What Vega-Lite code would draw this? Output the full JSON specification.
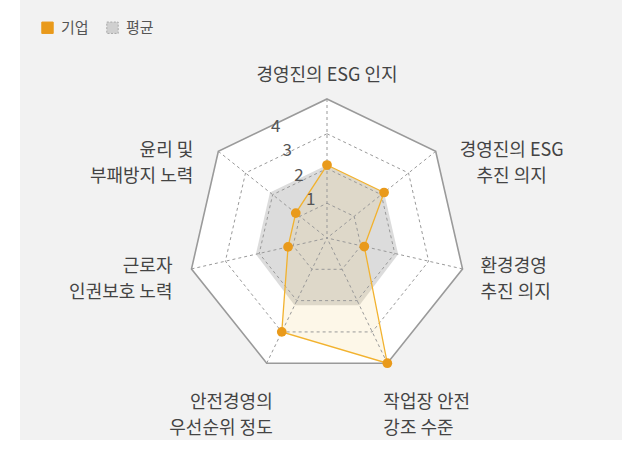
{
  "$schema": "https://vega.github.io/schema/vega-lite/v6.json",
  "width": 602,
  "height": 440,
  "autosize": {"type": "none"},
  "padding": {"left": 20, "right": 20, "top": 0, "bottom": 15},
  "background": "white",
  "config": {
    "view": {"fill": "#f2f2f2", "stroke": null},
    "font": "Noto Sans CJK KR",
    "text": {"font": "Noto Sans CJK KR", "fontSize": 18, "color": "#444", "lineBreak": "\n", "lineHeight": 26, "baseline": "middle"}
  },
  "datasets": {
    "axes": [
      {"i": 0, "label": "경영진의 ESG 인지"},
      {"i": 1, "label": "경영진의 ESG\n추진 의지"},
      {"i": 2, "label": "환경경영\n추진 의지"},
      {"i": 3, "label": "작업장 안전\n강조 수준"},
      {"i": 4, "label": "안전경영의\n우선순위 정도"},
      {"i": 5, "label": "근로자\n인권보호 노력"},
      {"i": 6, "label": "윤리 및\n부패방지 노력"}
    ],
    "grid": [
      {"level": 1, "i": 0}, {"level": 1, "i": 1}, {"level": 1, "i": 2}, {"level": 1, "i": 3}, {"level": 1, "i": 4}, {"level": 1, "i": 5}, {"level": 1, "i": 6},
      {"level": 2, "i": 0}, {"level": 2, "i": 1}, {"level": 2, "i": 2}, {"level": 2, "i": 3}, {"level": 2, "i": 4}, {"level": 2, "i": 5}, {"level": 2, "i": 6},
      {"level": 3, "i": 0}, {"level": 3, "i": 1}, {"level": 3, "i": 2}, {"level": 3, "i": 3}, {"level": 3, "i": 4}, {"level": 3, "i": 5}, {"level": 3, "i": 6},
      {"level": 4, "i": 0}, {"level": 4, "i": 1}, {"level": 4, "i": 2}, {"level": 4, "i": 3}, {"level": 4, "i": 4}, {"level": 4, "i": 5}, {"level": 4, "i": 6}
    ],
    "ticks": [{"level": 1}, {"level": 2}, {"level": 3}, {"level": 4}],
    "scores": [
      {"series": "기업", "i": 0, "value": 2.1},
      {"series": "기업", "i": 1, "value": 2.1},
      {"series": "기업", "i": 2, "value": 1.1},
      {"series": "기업", "i": 3, "value": 4.0},
      {"series": "기업", "i": 4, "value": 3.0},
      {"series": "기업", "i": 5, "value": 1.15},
      {"series": "기업", "i": 6, "value": 1.15},
      {"series": "평균", "i": 0, "value": 2.1},
      {"series": "평균", "i": 1, "value": 2.1},
      {"series": "평균", "i": 2, "value": 2.1},
      {"series": "평균", "i": 3, "value": 2.15},
      {"series": "평균", "i": 4, "value": 2.15},
      {"series": "평균", "i": 5, "value": 2.1},
      {"series": "평균", "i": 6, "value": 2.1}
    ]
  },
  "encoding": {
    "x": {"field": "x", "type": "quantitative", "scale": {"domain": [-8.835, 8.489], "nice": false, "zero": false}, "axis": null},
    "y": {"field": "y", "type": "quantitative", "scale": {"domain": [-5.813, 6.849], "nice": false, "zero": false}, "axis": null}
  },
  "layer": [
    {
      "data": {"name": "grid"},
      "transform": [
        {"filter": "datum.level == 4"},
        {"calculate": "datum.level * sin(datum.i * 2 * PI / 7)", "as": "x"},
        {"calculate": "datum.level * cos(datum.i * 2 * PI / 7)", "as": "y"}
      ],
      "mark": {"type": "line", "interpolate": "linear-closed", "fill": "white", "stroke": "#9a9a9a", "strokeWidth": 1.6},
      "encoding": {"order": {"field": "i", "type": "quantitative"}}
    },
    {
      "data": {"name": "scores"},
      "transform": [
        {"filter": "datum.series == '평균'"},
        {"calculate": "datum.value * sin(datum.i * 2 * PI / 7)", "as": "x"},
        {"calculate": "datum.value * cos(datum.i * 2 * PI / 7)", "as": "y"}
      ],
      "mark": {"type": "line", "interpolate": "linear-closed", "fill": "#dcdcdc", "strokeWidth": 0, "stroke": null},
      "encoding": {"order": {"field": "i", "type": "quantitative"}}
    },
    {
      "data": {"name": "scores"},
      "transform": [
        {"filter": "datum.series == '기업'"},
        {"calculate": "datum.value * sin(datum.i * 2 * PI / 7)", "as": "x"},
        {"calculate": "datum.value * cos(datum.i * 2 * PI / 7)", "as": "y"}
      ],
      "mark": {"type": "line", "interpolate": "linear-closed", "fill": "#eebc3f", "fillOpacity": 0.12, "strokeWidth": 0, "stroke": null},
      "encoding": {"order": {"field": "i", "type": "quantitative"}}
    },
    {
      "data": {"name": "grid"},
      "transform": [
        {"filter": "datum.level < 4"},
        {"calculate": "datum.level * sin(datum.i * 2 * PI / 7)", "as": "x"},
        {"calculate": "datum.level * cos(datum.i * 2 * PI / 7)", "as": "y"}
      ],
      "mark": {"type": "line", "interpolate": "linear-closed", "stroke": "#999", "strokeWidth": 1, "strokeDash": [3, 3]},
      "encoding": {"detail": {"field": "level", "type": "nominal"}, "order": {"field": "i", "type": "quantitative"}}
    },
    {
      "data": {"name": "axes"},
      "transform": [
        {"calculate": "4 * sin(datum.i * 2 * PI / 7)", "as": "x"},
        {"calculate": "4 * cos(datum.i * 2 * PI / 7)", "as": "y"}
      ],
      "mark": {"type": "rule", "stroke": "#999", "strokeWidth": 1, "strokeDash": [3, 3]},
      "encoding": {"x2": {"datum": 0}, "y2": {"datum": 0}}
    },
    {
      "data": {"name": "scores"},
      "transform": [
        {"filter": "datum.series == '기업'"},
        {"calculate": "datum.value * sin(datum.i * 2 * PI / 7)", "as": "x"},
        {"calculate": "datum.value * cos(datum.i * 2 * PI / 7)", "as": "y"}
      ],
      "mark": {"type": "line", "interpolate": "linear-closed", "stroke": "#f2b22e", "strokeWidth": 1.3},
      "encoding": {"order": {"field": "i", "type": "quantitative"}}
    },
    {
      "data": {"name": "scores"},
      "transform": [
        {"filter": "datum.series == '기업'"},
        {"calculate": "datum.value * sin(datum.i * 2 * PI / 7)", "as": "x"},
        {"calculate": "datum.value * cos(datum.i * 2 * PI / 7)", "as": "y"}
      ],
      "mark": {"type": "circle", "size": 95, "color": "#e99a1b", "opacity": 1}
    },
    {
      "data": {"name": "scores"},
      "transform": [
        {"calculate": "0", "as": "x"},
        {"calculate": "0", "as": "y"}
      ],
      "mark": {"type": "square", "size": 0, "opacity": 1},
      "encoding": {
        "fill": {
          "field": "series", "type": "nominal",
          "scale": {"domain": ["기업", "평균"], "range": ["#e99a1b", "#d0d0d0"]},
          "legend": {
            "title": null, "orient": "top-left", "direction": "horizontal", "offset": 20, "padding": 0,
            "symbolType": "square", "symbolSize": 130, "symbolOpacity": 1, "symbolStrokeWidth": 1,
            "labelFont": "Noto Sans CJK KR", "labelFontSize": 15, "labelColor": "#555", "labelOffset": 6, "columnPadding": 15,
            "encode": {"symbols": {"update": {
              "stroke": {"signal": "datum.value === '평균' ? '#a8a8a8' : '#e99a1b'"},
              "strokeDash": {"signal": "datum.value === '평균' ? [2, 1.5] : null"}
            }}}
          }
        }
      }
    },
    {
      "data": {"name": "ticks"},
      "transform": [
        {"calculate": "datum.level * 0.777 + 0.5", "as": "r"},
        {"calculate": "datum.r * sin(-PI / 7)", "as": "x"},
        {"calculate": "datum.r * cos(-PI / 7)", "as": "y"},
        {"calculate": "'' + datum.level", "as": "t"}
      ],
      "mark": {"type": "text", "fontSize": 17, "color": "#555", "align": "center", "dx": 3, "dy": 2},
      "encoding": {"text": {"field": "t"}}
    },
    {
      "data": {"name": "axes"},
      "transform": [
        {"filter": "datum.i == 0"},
        {"calculate": "4 * sin(datum.i * 2 * PI / 7)", "as": "x"},
        {"calculate": "4 * cos(datum.i * 2 * PI / 7)", "as": "y"}
      ],
      "mark": {"type": "text", "align": "center", "dy": -23},
      "encoding": {"text": {"field": "label"}}
    },
    {
      "data": {"name": "axes"},
      "transform": [
        {"filter": "datum.i == 1"},
        {"calculate": "4 * sin(datum.i * 2 * PI / 7)", "as": "x"},
        {"calculate": "4 * cos(datum.i * 2 * PI / 7)", "as": "y"}
      ],
      "mark": {"type": "text", "align": "center", "dx": 76, "dy": 0},
      "encoding": {"text": {"field": "label"}}
    },
    {
      "data": {"name": "axes"},
      "transform": [
        {"filter": "datum.i == 2"},
        {"calculate": "4 * sin(datum.i * 2 * PI / 7)", "as": "x"},
        {"calculate": "4 * cos(datum.i * 2 * PI / 7)", "as": "y"}
      ],
      "mark": {"type": "text", "align": "left", "dx": 18, "dy": -2},
      "encoding": {"text": {"field": "label"}}
    },
    {
      "data": {"name": "axes"},
      "transform": [
        {"filter": "datum.i == 3"},
        {"calculate": "4 * sin(datum.i * 2 * PI / 7)", "as": "x"},
        {"calculate": "4 * cos(datum.i * 2 * PI / 7)", "as": "y"}
      ],
      "mark": {"type": "text", "align": "left", "dx": -4, "dy": 40},
      "encoding": {"text": {"field": "label"}}
    },
    {
      "data": {"name": "axes"},
      "transform": [
        {"filter": "datum.i == 4"},
        {"calculate": "4 * sin(datum.i * 2 * PI / 7)", "as": "x"},
        {"calculate": "4 * cos(datum.i * 2 * PI / 7)", "as": "y"}
      ],
      "mark": {"type": "text", "align": "right", "dx": 6, "dy": 40},
      "encoding": {"text": {"field": "label"}}
    },
    {
      "data": {"name": "axes"},
      "transform": [
        {"filter": "datum.i == 5"},
        {"calculate": "4 * sin(datum.i * 2 * PI / 7)", "as": "x"},
        {"calculate": "4 * cos(datum.i * 2 * PI / 7)", "as": "y"}
      ],
      "mark": {"type": "text", "align": "right", "dx": -19, "dy": -2},
      "encoding": {"text": {"field": "label"}}
    },
    {
      "data": {"name": "axes"},
      "transform": [
        {"filter": "datum.i == 6"},
        {"calculate": "4 * sin(datum.i * 2 * PI / 7)", "as": "x"},
        {"calculate": "4 * cos(datum.i * 2 * PI / 7)", "as": "y"}
      ],
      "mark": {"type": "text", "align": "right", "dx": -25, "dy": 0},
      "encoding": {"text": {"field": "label"}}
    }
  ]
}
